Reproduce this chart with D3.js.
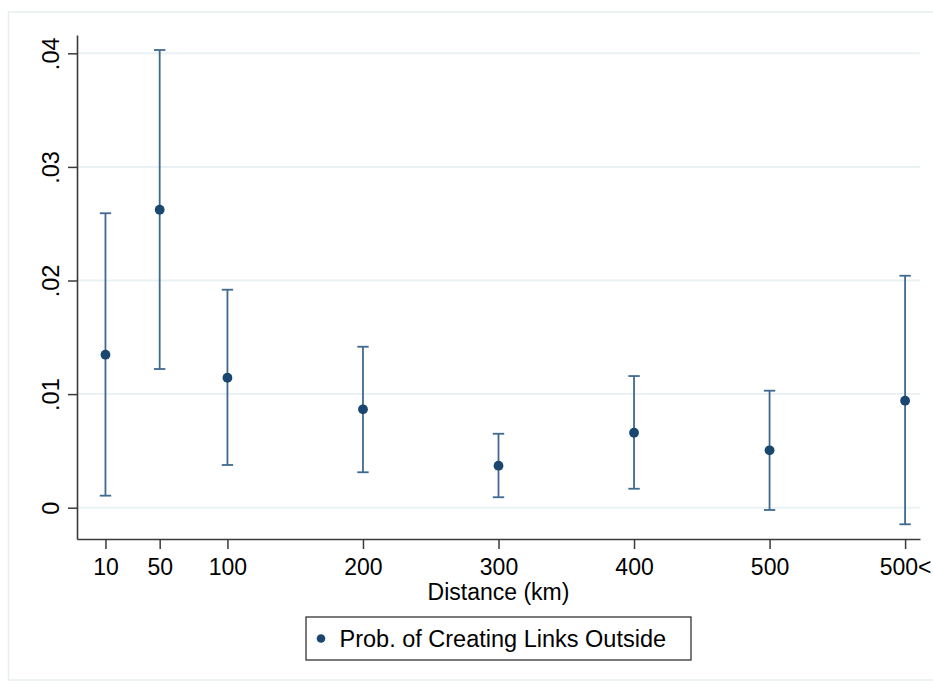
<!DOCTYPE html>
<html>
<head>
<meta charset="utf-8">
<script src="https://cdn.jsdelivr.net/npm/d3@7"></script>
<style>
  html, body { margin: 0; padding: 0; background: #ffffff; }
  svg { display: block; font-family: "Liberation Sans", Arial, sans-serif; }
</style>
</head>
<body>
<svg id="chart" width="933" height="685"></svg>
<script>
// Distance bins (km) and their axis positions
const distLabels = ["10", "50", "100", "200", "300", "400", "500", "500<"];
const distPos = [10, 50, 100, 200, 300, 400, 500, 600];

// Estimated probability of creating links outside, with confidence bounds
const prob   = [0.01347, 0.02623, 0.01144, 0.00866, 0.00370, 0.00660, 0.00505, 0.00942];
const ciLow  = [0.00106, 0.01221, 0.00376, 0.00312, 0.00092, 0.00167, -0.00020, -0.00146];
const ciHigh = [0.02592, 0.04029, 0.01919, 0.01417, 0.00651, 0.01159, 0.01030, 0.02042];

// Y axis ticks
const yTicks = [0, 0.01, 0.02, 0.03, 0.04];
const yTickLabels = ["0", ".01", ".02", ".03", ".04"];

const legendLabel = "Prob. of Creating Links Outside";
const xTitle = "Distance (km)";

const data = distPos.map((d, i) => ({
  pos: d, label: distLabels[i], p: prob[i], lo: ciLow[i], hi: ciHigh[i]
}));

const navy = "#1a476f";
const barColor = "#3f6990";
const gridColor = "#eaf1f3";
const axisColor = "#3a3a3a";
const fontSize = 23.5;
const tickFont = 23;

const plot = { left: 77, right: 920, top: 35, bottom: 539 };

const svg = d3.select("#chart");

// Outer graph frame
svg.append("rect")
  .attr("x", 8.5).attr("y", 12)
  .attr("width", 940).attr("height", 668)
  .attr("fill", "none")
  .attr("stroke", "#e7eef0")
  .attr("stroke-width", 1.5);

const x = d3.scaleLinear().domain([-11, 611]).range([plot.left, plot.right]);
const y = d3.scaleLinear().domain([-0.002755, 0.041611]).range([plot.bottom, plot.top]);

// Horizontal gridlines
svg.append("g")
  .selectAll("line")
  .data(yTicks)
  .join("line")
  .attr("x1", plot.left).attr("x2", plot.right)
  .attr("y1", d => y(d)).attr("y2", d => y(d))
  .attr("stroke", gridColor)
  .attr("stroke-width", 2);

// Y axis
const yAxis = svg.append("g")
  .attr("transform", `translate(${plot.left},0)`)
  .call(d3.axisLeft(y)
    .tickValues(yTicks)
    .tickFormat((d, i) => yTickLabels[i])
    .tickSize(9)
    .tickSizeOuter(0));
yAxis.select(".domain").attr("stroke", axisColor).attr("stroke-width", 1.6);
yAxis.selectAll(".tick line").attr("stroke", axisColor).attr("stroke-width", 1.5);
yAxis.selectAll(".tick text")
  .attr("x", null).attr("dy", null)
  .attr("text-anchor", "middle")
  .attr("transform", "translate(-18.5,0) rotate(-90)")
  .attr("fill", "#000")
  .style("font-size", fontSize + "px")
  .style("font-family", "'Liberation Sans', Arial, sans-serif");

// X axis
const xAxis = svg.append("g")
  .attr("transform", `translate(0,${plot.bottom})`)
  .call(d3.axisBottom(x)
    .tickValues(distPos)
    .tickFormat((d, i) => distLabels[i])
    .tickSize(10)
    .tickSizeOuter(0));
xAxis.select(".domain").attr("stroke", axisColor).attr("stroke-width", 1.6);
xAxis.selectAll(".tick line").attr("stroke", axisColor).attr("stroke-width", 1.5);
xAxis.selectAll(".tick text")
  .attr("y", 36).attr("dy", null)
  .attr("fill", "#000")
  .style("font-size", tickFont + "px")
  .style("font-family", "'Liberation Sans', Arial, sans-serif");

// X axis title
svg.append("text")
  .attr("x", (plot.left + plot.right) / 2)
  .attr("y", 600)
  .attr("text-anchor", "middle")
  .attr("fill", "#000")
  .style("font-size", tickFont + "px")
  .text(xTitle);

// Confidence interval caps
const capHalf = 5.7;
const ci = svg.append("g").attr("stroke", barColor).attr("stroke-width", 1.8);
ci.selectAll("line.stem")
  .data(data).join("line").attr("class", "stem")
  .attr("x1", d => x(d.pos)).attr("x2", d => x(d.pos))
  .attr("y1", d => y(d.hi)).attr("y2", d => y(d.lo));
ci.selectAll("line.capHi")
  .data(data).join("line").attr("class", "capHi")
  .attr("x1", d => x(d.pos) - capHalf).attr("x2", d => x(d.pos) + capHalf)
  .attr("y1", d => y(d.hi)).attr("y2", d => y(d.hi));
ci.selectAll("line.capLo")
  .data(data).join("line").attr("class", "capLo")
  .attr("x1", d => x(d.pos) - capHalf).attr("x2", d => x(d.pos) + capHalf)
  .attr("y1", d => y(d.lo)).attr("y2", d => y(d.lo));

// Point estimates
svg.append("g")
  .selectAll("circle")
  .data(data).join("circle")
  .attr("cx", d => x(d.pos))
  .attr("cy", d => y(d.p))
  .attr("r", 4.9)
  .attr("fill", navy);

// Legend
const legend = svg.append("g");
legend.append("rect")
  .attr("x", 306).attr("y", 617)
  .attr("width", 385).attr("height", 43)
  .attr("fill", "#fff")
  .attr("stroke", "#333")
  .attr("stroke-width", 1.3);
legend.append("circle")
  .attr("cx", 321).attr("cy", 638.5)
  .attr("r", 4.3)
  .attr("fill", navy);
legend.append("text")
  .attr("x", 339.5).attr("y", 647)
  .attr("fill", "#000")
  .style("font-size", fontSize + "px")
  .text(legendLabel);
</script>
</body>
</html>
